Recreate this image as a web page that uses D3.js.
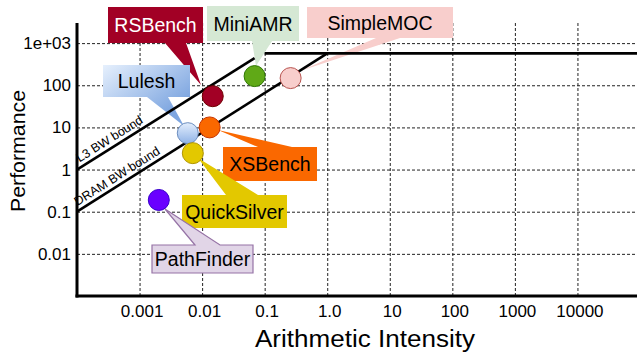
<!DOCTYPE html>
<html>
<head>
<meta charset="utf-8">
<script src="https://cdn.jsdelivr.net/npm/d3@7"></script>
<style>
  html, body { margin: 0; padding: 0; background: #fff; }
  svg { display: block; font-family: "Liberation Sans", Arial, Helvetica, sans-serif; }
</style>
</head>
<body>
<svg id="chart" width="637" height="356"></svg>
<script>
// ---------- data ----------
const apps = ["RSBench", "MiniAMR", "SimpleMOC", "Lulesh", "XSBench", "QuickSilver", "PathFinder"];
const intensity = [0.0148, 0.069, 0.26, 0.0059, 0.0132, 0.0071, 0.00203];
const performance = [55, 165, 148, 7.3, 10, 2.45, 0.19];

const l3Bound = [[1e-4, 1], [0.069, 441]];
const dramBound = [[1e-4, 0.1], [1.0, 570]];
const peakBound = [[0.1, 570], [1e5, 570]];

const xTicks = [0.001, 0.01, 0.1, 1, 10, 100, 1000, 10000];
const xTickLabels = ["0.001", "0.01", "0.1", "1.0", "10", "100", "1000", "10000"];
const yTicks = [0.01, 0.1, 1, 10, 100, 1000];
const yTickLabels = ["0.01", "0.1", "1", "10", "100", "1e+03"];

// ---------- layout / styles ----------
const plot = { left: 77, right: 640, top: 23, bottom: 296 };
const styles = {
  RSBench:     { fill: "#a20025", stroke: "#6f0000", box: "#a20025", boxStroke: "none", text: "#fff" },
  MiniAMR:     { fill: "#60a917", stroke: "#2d7600", box: "#d5e8d4", boxStroke: "none", text: "#000" },
  SimpleMOC:   { fill: "#f8cecc", stroke: "#b85450", box: "#f8cecc", boxStroke: "none", text: "#000" },
  Lulesh:      { fill: "url(#luleshDot)", stroke: "#6c8ebf", box: "url(#luleshBox)", boxStroke: "none", text: "#000" },
  XSBench:     { fill: "#fa6800", stroke: "#c73500", box: "#fa6800", boxStroke: "none", text: "#000" },
  QuickSilver: { fill: "#e3c800", stroke: "#b09500", box: "#e3c800", boxStroke: "none", text: "#000" },
  PathFinder:  { fill: "#6a00ff", stroke: "#3700cc", box: "#e1d5e7", boxStroke: "#9673a6", text: "#000" }
};
// callout boxes (pixels): [x0,y0,x1,y1], wedge side, wedge base span, wedge tip
const callouts = {
  RSBench:     { box: [108, 7, 203, 43],   side: "bottom", base: [165, 186], tip: [201, 85] },
  MiniAMR:     { box: [207, 6, 299, 41],   side: "bottom", base: [252, 272], tip: [256, 66] },
  SimpleMOC:   { box: [307, 7, 453, 38],   side: "bottom", base: [376, 400], tip: [300, 71] },
  Lulesh:      { box: [103, 65, 190, 97],  side: "bottom", base: [147, 168], tip: [184, 126] },
  XSBench:     { box: [223, 147, 317, 181], side: "top",   base: [258, 292], tip: [218, 130] },
  QuickSilver: { box: [182, 195, 287, 228], side: "top",   base: [226, 258], tip: [198, 158] },
  PathFinder:  { box: [152, 245, 253, 273], side: "top",   base: [195, 220], tip: [165, 209] }
};

const svg = d3.select("#chart");
svg.append("rect").attr("width", 637).attr("height", 356).attr("fill", "#fff");

const defs = svg.append("defs");
const g1 = defs.append("linearGradient").attr("id", "luleshDot")
  .attr("x1", 0).attr("y1", 0).attr("x2", 0).attr("y2", 1);
g1.append("stop").attr("offset", "0%").attr("stop-color", "#e3eefd");
g1.append("stop").attr("offset", "100%").attr("stop-color", "#8fb2e6");
const g2 = defs.append("linearGradient").attr("id", "luleshBox")
  .attr("gradientUnits", "userSpaceOnUse")
  .attr("x1", 103).attr("y1", 65).attr("x2", 150).attr("y2", 128);
g2.append("stop").attr("offset", "0%").attr("stop-color", "#e6f0fd");
g2.append("stop").attr("offset", "100%").attr("stop-color", "#7ea6e0");

const x = d3.scaleLog().domain([1e-4, 1e5]).range([plot.left, plot.right]);
const y = d3.scaleLog().domain([1e-3, 3000]).range([plot.bottom, plot.top]);

// ---------- grid ----------
svg.append("g")
  .attr("transform", `translate(0,${plot.bottom})`)
  .call(d3.axisBottom(x).tickValues(xTicks).tickSize(-(plot.bottom - plot.top)).tickFormat(""))
  .call(g => g.select(".domain").remove())
  .call(g => g.selectAll("line").attr("stroke", "#222").attr("stroke-width", 1).attr("stroke-dasharray", "3,2"));
svg.append("g")
  .attr("transform", `translate(${plot.left},0)`)
  .call(d3.axisLeft(y).tickValues(yTicks).tickSize(-(637 - plot.left)).tickFormat(""))
  .call(g => g.select(".domain").remove())
  .call(g => g.selectAll("line").attr("stroke", "#222").attr("stroke-width", 1).attr("stroke-dasharray", "3,2"));

// ---------- callouts ----------
function calloutPath(c) {
  const [x0, y0, x1, y1] = c.box, [b1, b2] = c.base, [tx, ty] = c.tip;
  if (c.side === "bottom") {
    return `M${x0},${y0}H${x1}V${y1}H${b2}L${tx},${ty}L${b1},${y1}H${x0}Z`;
  }
  return `M${x0},${y0}H${b1}L${tx},${ty}L${b2},${y0}H${x1}V${y1}H${x0}Z`;
}
const cg = svg.append("g");
apps.forEach(name => {
  const c = callouts[name], s = styles[name];
  cg.append("path").attr("d", calloutPath(c))
    .attr("fill", s.box).attr("stroke", s.boxStroke).attr("stroke-width", 1.2);
  cg.append("text")
    .attr("x", (c.box[0] + c.box[2]) / 2)
    .attr("y", (c.box[1] + c.box[3]) / 2)
    .attr("dy", "0.36em")
    .attr("text-anchor", "middle")
    .attr("font-size", 19.5)
    .attr("fill", s.text)
    .text(name);
});

// ---------- bounds ----------
const line = d3.line().x(d => x(d[0])).y(d => y(d[1]));
[l3Bound, dramBound, peakBound].forEach(seg => {
  svg.append("path").attr("d", line(seg)).attr("fill", "none")
    .attr("stroke", "#000").attr("stroke-width", 2.6);
});

function boundLabel(seg, text, startPx) {
  const p0 = [x(seg[0][0]), y(seg[0][1])], p1 = [x(seg[1][0]), y(seg[1][1])];
  const ang = Math.atan2(p1[1] - p0[1], p1[0] - p0[0]);
  const t = (startPx - p0[0]) / (p1[0] - p0[0]);
  const px = p0[0] + t * (p1[0] - p0[0]), py = p0[1] + t * (p1[1] - p0[1]);
  svg.append("text")
    .attr("transform", `translate(${px},${py}) rotate(${ang * 180 / Math.PI})`)
    .attr("x", 0).attr("y", -4.5)
    .attr("font-size", 12.5)
    .attr("fill", "#000")
    .text(text);
}
boundLabel(l3Bound, "L3 BW bound", 82);
boundLabel(dramBound, "DRAM BW bound", 80);

// ---------- axes ----------
svg.append("g")
  .attr("transform", `translate(0,${plot.bottom})`)
  .call(d3.axisBottom(x).tickValues(xTicks).tickSize(0).tickPadding(9)
    .tickFormat((d, i) => xTickLabels[i]))
  .call(g => g.select(".domain").remove())
  .call(g => g.selectAll("text").attr("font-size", 17).attr("fill", "#000")
    .attr("font-family", "Liberation Sans, Arial, sans-serif").attr("dx", 2));
svg.append("g")
  .attr("transform", `translate(${plot.left},0)`)
  .call(d3.axisLeft(y).tickValues(yTicks).tickSize(0).tickPadding(6)
    .tickFormat((d, i) => yTickLabels[i]))
  .call(g => g.select(".domain").remove())
  .call(g => g.selectAll("text").attr("font-size", 17).attr("fill", "#000")
    .attr("font-family", "Liberation Sans, Arial, sans-serif"));

svg.append("line").attr("x1", plot.left).attr("x2", plot.left)
  .attr("y1", plot.top).attr("y2", plot.bottom + 1.5)
  .attr("stroke", "#000").attr("stroke-width", 3);
svg.append("line").attr("x1", plot.left - 1.5).attr("x2", 637)
  .attr("y1", plot.bottom).attr("y2", plot.bottom)
  .attr("stroke", "#000").attr("stroke-width", 3);

svg.append("text")
  .attr("x", 365).attr("y", 347)
  .attr("text-anchor", "middle")
  .attr("font-size", 23)
  .attr("textLength", 220).attr("lengthAdjust", "spacingAndGlyphs")
  .text("Arithmetic Intensity");
svg.append("text")
  .attr("transform", "translate(25,151) rotate(-90)")
  .attr("text-anchor", "middle")
  .attr("font-size", 19.5)
  .attr("textLength", 122).attr("lengthAdjust", "spacingAndGlyphs")
  .text("Performance");

// ---------- points ----------
svg.append("g").selectAll("circle")
  .data(apps)
  .join("circle")
  .attr("cx", (d, i) => x(intensity[i]))
  .attr("cy", (d, i) => y(performance[i]))
  .attr("r", 10.5)
  .attr("fill", d => styles[d].fill)
  .attr("stroke", d => styles[d].stroke)
  .attr("stroke-width", 1);
</script>
</body>
</html>
